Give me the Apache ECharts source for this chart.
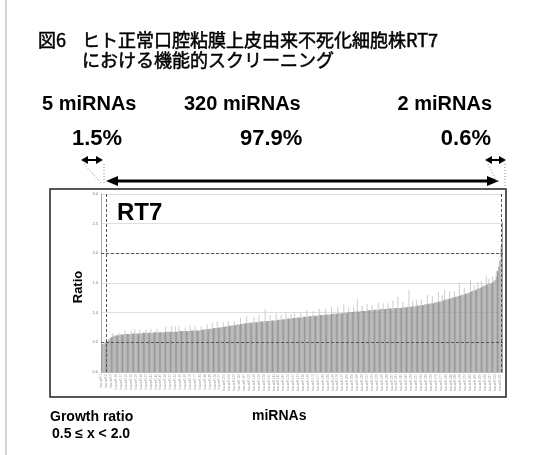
<!DOCTYPE html>
<html>
<head>
<meta charset="utf-8">
<script src="https://cdn.jsdelivr.net/npm/echarts@6/dist/echarts.min.js"></script>
<style>
    html, body { margin: 0; padding: 0; background: #fff; }
    #chart { width: 541px; height: 455px; }
</style>
</head>
<body>
<div id="chart"></div>
<script>
// growth ratio of each miRNA, sorted ascending
const ratios = [
    0.45, 0.47, 0.48, 0.49, 0.49,
    0.52, 0.55, 0.57, 0.59, 0.60, 0.61, 0.61, 0.62, 0.62, 0.62, 0.63, 0.63, 0.63, 0.63, 0.64,
    0.64, 0.64, 0.64, 0.64, 0.64, 0.65, 0.65, 0.65, 0.65, 0.65, 0.65, 0.65, 0.65, 0.66, 0.66, 0.66, 0.66, 0.66, 0.66, 0.66,
    0.66, 0.66, 0.66, 0.67, 0.67, 0.67, 0.67, 0.67, 0.67, 0.67, 0.67, 0.67, 0.68, 0.68, 0.68, 0.68, 0.68, 0.68, 0.68, 0.68,
    0.68, 0.68, 0.68, 0.69, 0.69, 0.69, 0.69, 0.69, 0.69, 0.69, 0.69, 0.69, 0.70, 0.70, 0.70, 0.70, 0.70, 0.70, 0.70, 0.70,
    0.70, 0.71, 0.71, 0.71, 0.72, 0.72, 0.72, 0.72, 0.73, 0.73, 0.73, 0.74, 0.74, 0.74, 0.74, 0.75, 0.75, 0.75, 0.76, 0.76,
    0.76, 0.77, 0.77, 0.77, 0.78, 0.78, 0.78, 0.79, 0.79, 0.79, 0.80, 0.80, 0.80, 0.81, 0.81, 0.81, 0.82, 0.82, 0.82, 0.83, 0.83,
    0.83, 0.83, 0.84, 0.84, 0.84, 0.84, 0.84, 0.85, 0.85, 0.85, 0.85, 0.85, 0.86, 0.86, 0.86, 0.86, 0.86, 0.87, 0.87,
    0.87, 0.87, 0.87, 0.88, 0.88, 0.88, 0.88, 0.89, 0.89, 0.89, 0.89, 0.90, 0.90, 0.90, 0.90, 0.91, 0.91, 0.91, 0.91, 0.92, 0.92, 0.92,
    0.92, 0.92, 0.93, 0.93, 0.93, 0.93, 0.94, 0.94, 0.94, 0.94, 0.95, 0.95, 0.95, 0.95, 0.95, 0.96, 0.96, 0.96,
    0.96, 0.96, 0.97, 0.97, 0.97, 0.97, 0.97, 0.98, 0.98, 0.98, 0.98, 0.98, 0.99, 0.99, 0.99, 0.99, 0.99, 1.00, 1.00, 1.00, 1.00, 1.01, 1.01,
    1.01, 1.01, 1.01, 1.02, 1.02, 1.02, 1.02, 1.02, 1.03, 1.03, 1.03, 1.03, 1.03, 1.04, 1.04, 1.04, 1.04,
    1.04, 1.04, 1.05, 1.05, 1.05, 1.05, 1.05, 1.06, 1.06, 1.06, 1.06, 1.06, 1.07, 1.07, 1.07, 1.07, 1.07, 1.07, 1.08, 1.08, 1.08, 1.08, 1.08,
    1.08, 1.08, 1.09, 1.09, 1.09, 1.09, 1.10, 1.10, 1.10, 1.10, 1.11, 1.11, 1.11, 1.11, 1.12, 1.12, 1.12,
    1.12, 1.13, 1.13, 1.14, 1.14, 1.14, 1.15, 1.15, 1.16, 1.16,
    1.16, 1.17, 1.17, 1.18, 1.18, 1.19, 1.19, 1.20, 1.21, 1.21,
    1.22, 1.22, 1.23, 1.24, 1.24, 1.25, 1.26, 1.26, 1.27, 1.27,
    1.28, 1.28, 1.29, 1.30, 1.30, 1.31, 1.32, 1.32,
    1.33, 1.34, 1.35, 1.36, 1.37, 1.37, 1.38,
    1.39, 1.40, 1.41, 1.42, 1.43, 1.44,
    1.45, 1.46, 1.47, 1.48, 1.49, 1.49,
    1.50, 1.51, 1.53, 1.55, 1.60, 1.70, 1.78, 1.88, 2.12, 2.52
]

// light grey spread above some bars: [bar index, extra height]
const spikes = [
    [3, 0.04], [9, 0.05], [14, 0.04], [19, 0.06], [24, 0.05], [27, 0.07], [31, 0.06], [36, 0.05],
    [40, 0.07], [45, 0.06], [52, 0.08], [57, 0.10], [60, 0.09], [63, 0.08], [68, 0.06], [72, 0.09],
    [76, 0.07], [81, 0.06], [86, 0.08], [90, 0.10], [94, 0.11], [99, 0.08], [103, 0.09], [108, 0.07],
    [113, 0.10], [118, 0.12], [124, 0.09], [128, 0.11], [133, 0.20], [137, 0.10], [142, 0.12], [146, 0.09],
    [150, 0.13], [154, 0.08], [157, 0.10], [162, 0.09], [167, 0.11], [172, 0.08], [177, 0.10], [182, 0.09],
    [187, 0.12], [192, 0.10], [197, 0.14], [201, 0.08], [205, 0.10], [208, 0.21], [212, 0.09], [216, 0.11],
    [220, 0.08], [225, 0.12], [229, 0.10], [233, 0.09], [237, 0.13], [241, 0.19], [245, 0.10], [250, 0.28],
    [253, 0.09], [256, 0.11], [260, 0.10], [265, 0.16], [269, 0.12], [274, 0.17], [277, 0.10], [279, 0.17],
    [283, 0.12], [287, 0.10], [291, 0.22], [295, 0.11], [300, 0.20], [303, 0.09], [306, 0.12], [309, 0.10],
    [313, 0.14], [315, 0.08], [318, 0.10], [321, 0.11]
]

const thresholds = [0.5, 2.0]
const groupCounts = ['5 miRNAs', '320 miRNAs', '2 miRNAs']
const groupShares = ['1.5%', '97.9%', '0.6%']
// bars below / above the thresholds
const lowCount = 5
const highCount = 2

const categories = ratios.map((_, i) => 'hsa-miR-' + (i + 1))
const spikeData = ratios.map(() => 0)
spikes.forEach(([i, h]) => { spikeData[i] = h })

const latin = '"Liberation Sans", Arial, sans-serif'
const cjk = '"Noto Sans CJK JP", sans-serif'

const txt = (text, x, y, font, align, stroke) => ({
    type: 'text',
    x: x,
    y: y,
    style: {
        text: text,
        font: font,
        fill: '#000',
        // a hairline stroke gives the title its medium weight
        stroke: stroke ? '#000' : null,
        lineWidth: stroke || 0,
        textAlign: align || 'left',
        textVerticalAlign: 'middle',
    },
})

const line = (x1, y1, x2, y2, width, dash) => ({
    type: 'line',
    shape: { x1: x1, y1: y1, x2: x2, y2: y2 },
    style: { stroke: dash ? '#888' : '#000', lineWidth: width, lineDash: dash || null },
})

// double-headed arrow
const arrow = (x1, x2, y, w, hl, hh) => [
    line(x1 + hl - 1, y, x2 - hl + 1, y, w),
    { type: 'polygon', shape: { points: [[x1, y], [x1 + hl, y - hh], [x1 + hl, y + hh]] }, style: { fill: '#000' } },
    { type: 'polygon', shape: { points: [[x2, y], [x2 - hl, y - hh], [x2 - hl, y + hh]] }, style: { fill: '#000' } },
]

const option = {
    animation: false,
    backgroundColor: '#fff',
    grid: {
        left: 101,
        right: 38,
        top: 194,
        bottom: 83,
        outerBoundsMode: 'none',
    },
    xAxis: {
        type: 'category',
        data: categories,
        axisLine: { show: true, lineStyle: { color: '#bbb', width: 1 } },
        axisTick: { show: false },
        axisLabel: {
            rotate: 90,
            interval: 3,
            fontSize: 3,
            color: '#999',
            margin: 2,
        },
    },
    yAxis: {
        type: 'value',
        min: 0,
        max: 3,
        interval: 0.5,
        axisLine: { show: true, lineStyle: { color: '#aaa', width: 1 } },
        axisTick: { show: false },
        axisLabel: {
            fontSize: 4,
            color: '#777',
            margin: 3,
            formatter: (v) => v.toFixed(1),
        },
        splitLine: { lineStyle: { color: '#dedede', width: 1 } },
    },
    series: [
        {
            name: 'Ratio',
            type: 'bar',
            stack: 'r',
            data: ratios,
            barCategoryGap: '25%',
            itemStyle: { color: '#969696' },
            markLine: {
                silent: true,
                symbol: 'none',
                label: { show: false },
                lineStyle: { color: '#555', type: [3, 2], width: 1 },
                data: [
                    { yAxis: thresholds[0] },
                    { yAxis: thresholds[1] },
                    { xAxis: lowCount - 1 },
                    { xAxis: ratios.length - highCount },
                ],
            },
        },
        {
            name: 'spread',
            type: 'bar',
            stack: 'r',
            data: spikeData,
            itemStyle: { color: '#cdcdcd' },
        },
    ],
    graphic: [
        { type: 'rect', shape: { x: 5, y: 0, width: 2, height: 455 }, style: { fill: '#d6d6d6' } },
        txt('図6', 38, 40, '18px ' + cjk, 'left', 0.5),
        txt('ヒト正常口腔粘膜上皮由来不死化細胞株RT7', 82, 40, '18px ' + cjk, 'left', 0.5),
        txt('における機能的スクリーニング', 82, 60, '18px ' + cjk, 'left', 0.5),
        txt(groupCounts[0], 42, 104, 'bold 20px ' + latin),
        txt(groupCounts[1], 184, 104, 'bold 20px ' + latin),
        txt(groupCounts[2], 492, 104, 'bold 20px ' + latin, 'right'),
        txt(groupShares[0], 72, 139, 'bold 22px ' + latin),
        txt(groupShares[1], 240, 139, 'bold 22px ' + latin),
        txt(groupShares[2], 491, 139, 'bold 22px ' + latin, 'right'),
        ...arrow(81, 103, 160, 2, 7, 4),
        ...arrow(485, 506, 160, 2, 7, 4),
        ...arrow(106, 499, 181, 3, 12, 5),
        line(84, 164, 101, 183, 1, [1, 2]),
        line(104, 164, 104, 184, 1, [1, 2]),
        line(488, 164, 497, 182, 1, [1, 2]),
        line(505, 164, 505, 186, 1, [1, 2]),
        {
            type: 'rect',
            shape: { x: 50, y: 189, width: 456, height: 208 },
            style: { fill: null, stroke: '#222', lineWidth: 1.5 },
            z: 10,
        },
        txt('RT7', 117, 213, 'bold 24px ' + latin),
        {
            type: 'text',
            x: 78,
            y: 287,
            rotation: Math.PI / 2,
            style: {
                text: 'Ratio',
                font: 'bold 13px ' + latin,
                fill: '#000',
                textAlign: 'center',
                textVerticalAlign: 'middle',
            },
        },
        txt('Growth ratio', 50, 417, 'bold 14px ' + latin),
        txt('0.5 ≤ x < 2.0', 52, 434, 'bold 14px ' + latin),
        txt('miRNAs', 252, 416, 'bold 14px ' + latin),
    ],
}

const chart = echarts.init(document.getElementById('chart'))
chart.setOption(option)
</script>
</body>
</html>
